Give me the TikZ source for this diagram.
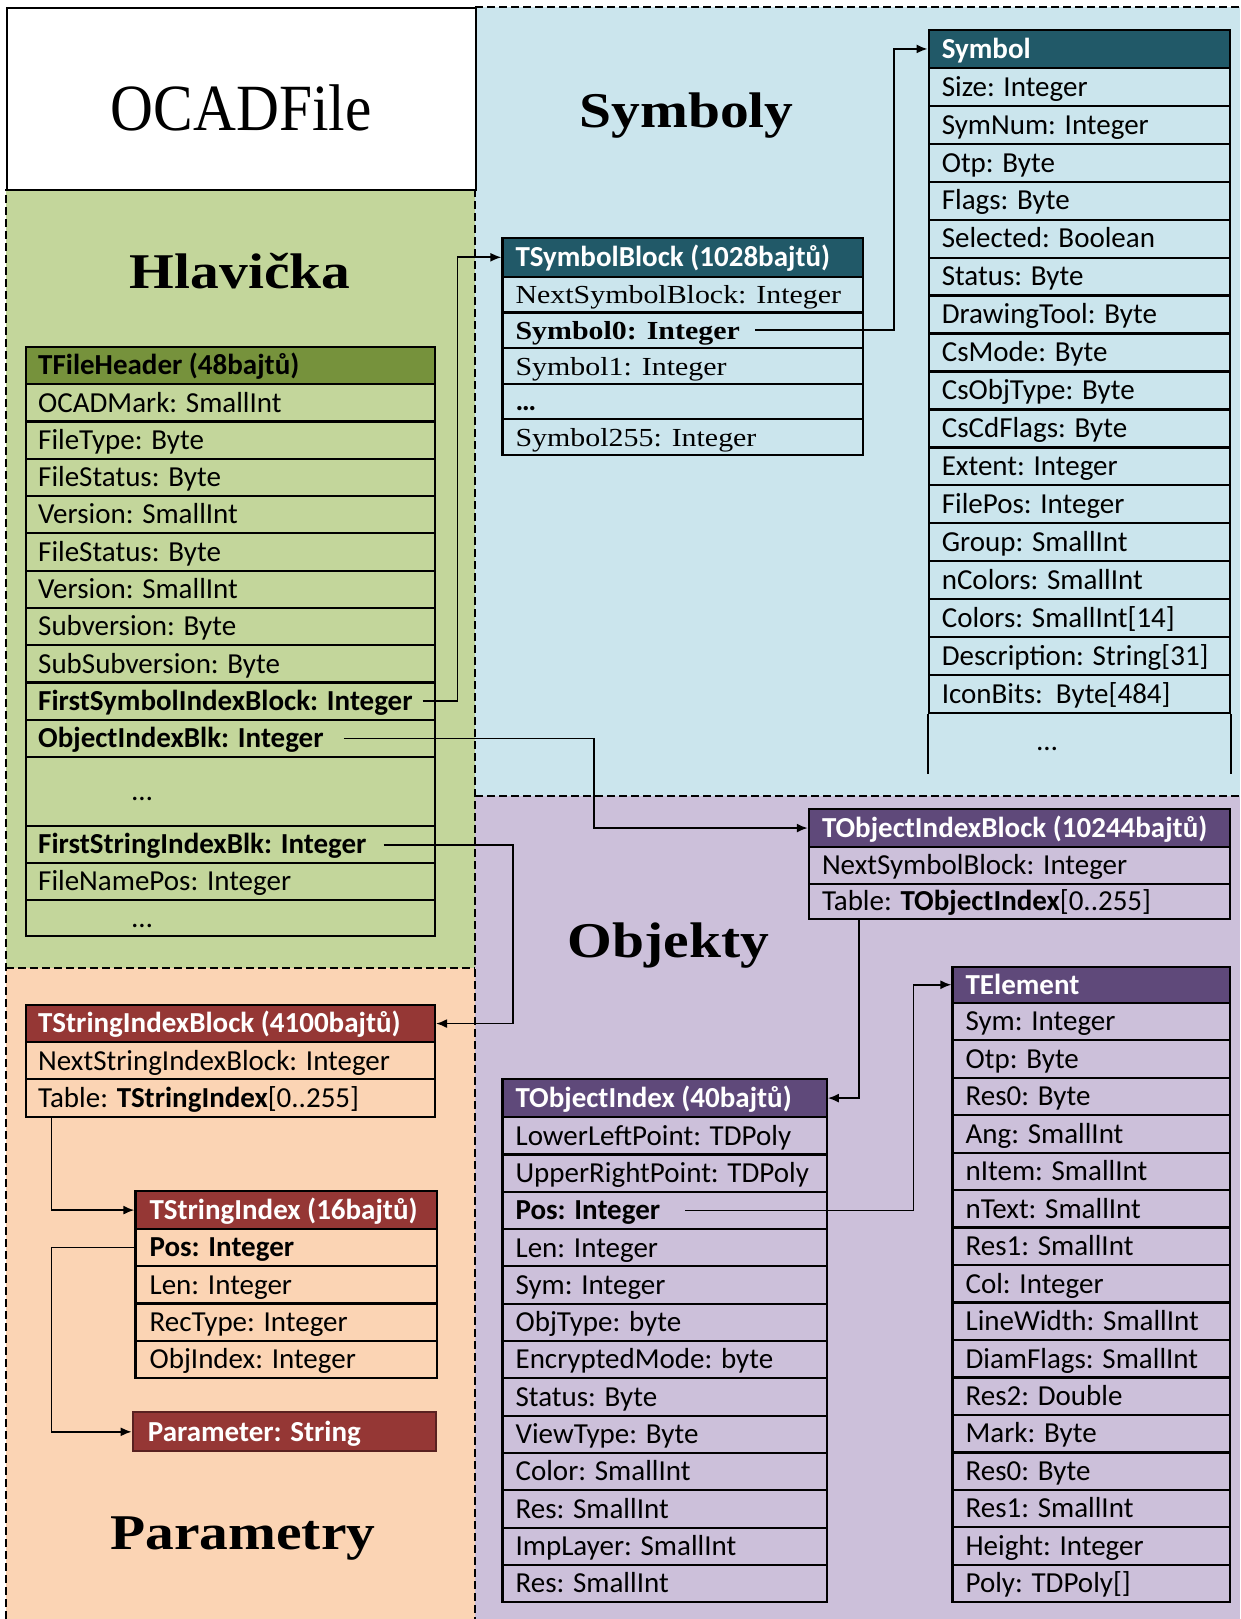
\documentclass[tikz,border=0pt]{standalone}
\usepackage{fontspec}
\setmainfont{Carlito}
\newfontfamily\cambria[FakeStretch=1.15]{Liberation Serif}
\newfontfamily\ocadfont[FakeStretch=0.9]{Liberation Serif}
\usetikzlibrary{arrows.meta,calc}
\definecolor{hlavbg}{RGB}{195,214,155}
\definecolor{hlavhd}{RGB}{118,146,60}
\definecolor{symbg}{RGB}{203,229,237}
\definecolor{symhd}{RGB}{33,89,104}
\definecolor{objbg}{RGB}{204,192,218}
\definecolor{objhd}{RGB}{95,73,122}
\definecolor{parbg}{RGB}{251,212,180}
\definecolor{parhd}{RGB}{149,55,53}
\newcommand\serif{\cambria\fontsize{26}{30}\selectfont}
\tikzset{
  cellbox/.style={draw=black, line width=2.2pt, inner sep=0pt, anchor=north west},
  rowtext/.style={anchor=west, inner sep=0pt, text height=22pt, text depth=3.4pt, font=\fontsize{29}{34}\selectfont},
  hdrtext/.style={rowtext, font=\fontsize{29}{34}\selectfont\bfseries, text=white},
  conn/.style={draw=black, line width=1.8pt, -{Latex[length=11pt,width=9pt]}},
  regionline/.style={draw=black, line width=1.4pt, dash pattern=on 8pt off 4pt},
  title/.style={anchor=base, inner sep=0pt, font=\cambria\bfseries\fontsize{50}{56}\selectfont},
}
\begin{document}
\begin{tikzpicture}[x=1pt,y=-1pt]
\useasboundingbox (0,0) rectangle (1240,1619);
% regions
\fill[symbg] (475,7) rectangle (1240,796);
\fill[objbg] (475,796) rectangle (1240,1619);
\fill[hlavbg] (6,189) rectangle (475,968);
\fill[parbg] (6,968) rectangle (475,1619);
\draw[regionline] (6,1619) -- (6,189);
\draw[regionline] (475,189) -- (475,1619);
\draw[regionline] (6,968) -- (475,968);
\draw[regionline] (475,7) -- (1240,7);
\draw[regionline] (475,796) -- (1240,796);
\node[draw=black, line width=2pt, fill=white, minimum width=469, minimum height=182, anchor=north west, inner sep=0pt] (ocad) at (6,7) {};
% titles
\node[anchor=base, inner sep=0pt, font=\ocadfont\fontsize{66}{70}\selectfont] (tOC) at (241.2,130.7) {OCADFile};
\node[title] (tHl) at (240.2,288.3) {Hlavička};
\node[title] (tSy) at (686.5,127.3) {Symboly};
\node[title] (tOb) at (668.6,957.5) {Objekty};
\node[title] (tPa) at (242.8,1549.4) {Parametry};

% ---------- TFileHeader ----------
\node[cellbox, fill=hlavhd, minimum width=409, minimum height=37] (fhh) at (25,346) {};
\node[rowtext, font=\fontsize{29}{34}\selectfont\bfseries] (fhht) at ([xshift=13pt]fhh.west) {TFileHeader (48bajtů)};
\foreach \t [count=\i] in {OCADMark: SmallInt, FileType: Byte, FileStatus: Byte, Version: SmallInt, FileStatus: Byte, Version: SmallInt, Subversion: Byte, SubSubversion: Byte, \bfseries FirstSymbolIndexBlock: Integer, \bfseries ObjectIndexBlk: Integer}{
  \node[cellbox, minimum width=409, minimum height=37.3] (fh\i) at (25,{383+(\i-1)*37.3}) {};
  \node[rowtext] (fht\i) at ([xshift=13pt]fh\i.west) {\t};
}
\node[cellbox, minimum width=409, minimum height=69] (fh11) at (25,756) {};
\node[rowtext] (fht11) at ([xshift=107pt]fh11.west) {…};
\node[cellbox, minimum width=409, minimum height=37] (fh12) at (25,825) {};
\node[rowtext] (fht12) at ([xshift=13pt]fh12.west) {\bfseries FirstStringIndexBlk: Integer};
\node[cellbox, minimum width=409, minimum height=37] (fh13) at (25,862) {};
\node[rowtext] (fht13) at ([xshift=13pt]fh13.west) {FileNamePos: Integer};
\node[cellbox, minimum width=409, minimum height=36] (fh14) at (25,899) {};
\node[rowtext] (fht14) at ([xshift=107pt]fh14.west) {…};

% ---------- TSymbolBlock ----------
\node[cellbox, fill=symhd, minimum width=360.6, minimum height=39] (sbh) at (501.4,236.7) {};
\node[hdrtext] (sbht) at ([xshift=14pt]sbh.west) {TSymbolBlock (1028bajtů)};
\foreach \t [count=\i] in {\serif NextSymbolBlock: Integer, \serif\bfseries Symbol0: Integer, \serif Symbol1: Integer, \bfseries …, \serif Symbol255: Integer}{
  \node[cellbox, minimum width=360.6, minimum height=35.6] (sb\i) at (501.4,{275.7+(\i-1)*35.6}) {};
  \node[rowtext] (sbt\i) at ([xshift=14pt]sb\i.west) {\t};
}

% ---------- Symbol ----------
\node[cellbox, fill=symhd, minimum width=301.4, minimum height=37.7] (syh) at (927.6,29) {};
\node[hdrtext] (syht) at ([xshift=14pt]syh.west) {Symbol};
\foreach \t [count=\i] in {Size: Integer, SymNum: Integer, Otp: Byte, Flags: Byte, Selected: Boolean, Status: Byte, DrawingTool: Byte, CsMode: Byte, CsObjType: Byte, CsCdFlags: Byte, Extent: Integer, FilePos: Integer, Group: SmallInt, nColors: SmallInt, Colors: SmallInt[14], Description: String[31], IconBits:\ \ Byte[484]}{
  \node[cellbox, minimum width=301.4, minimum height=37.96] (sy\i) at (927.6,{66.7+(\i-1)*37.96}) {};
  \node[rowtext] (syt\i) at ([xshift=14pt]sy\i.west) {\t};
}
\draw[line width=2.2pt] (sy17.south west) -- ++(0,60);
\draw[line width=2.2pt] (sy17.south east) -- ++(0,60);
\node[rowtext, anchor=center] (syd) at (1047,740.7) {…};

% ---------- TObjectIndexBlock ----------
\node[cellbox, fill=objhd, minimum width=421.2, minimum height=37.5] (oibh) at (807.8,808.2) {};
\node[hdrtext] (oibht) at ([xshift=14pt]oibh.west) {TObjectIndexBlock (10244bajtů)};
\node[cellbox, minimum width=421.2, minimum height=36.8] (oib1) at (807.8,845.7) {};
\node[rowtext] (oibt1) at ([xshift=14pt]oib1.west) {NextSymbolBlock: Integer};
\node[cellbox, minimum width=421.2, minimum height=35] (oib2) at (807.8,882.5) {};
\node[rowtext] (oibt2) at ([xshift=14pt]oib2.west) {Table: \textbf{TObjectIndex}[0..255]};

% ---------- TElement ----------
\node[cellbox, fill=objhd, minimum width=277.6, minimum height=35.9] (teh) at (951.4,965.7) {};
\node[hdrtext] (teht) at ([xshift=14pt]teh.west) {TElement};
\foreach \t [count=\i] in {Sym: Integer, Otp: Byte, Res0: Byte, Ang: SmallInt, nItem: SmallInt, nText: SmallInt, Res1: SmallInt, Col: Integer, LineWidth: SmallInt, DiamFlags: SmallInt, Res2: Double, Mark: Byte, Res0: Byte, Res1: SmallInt, Height: Integer, Poly: TDPoly[]}{
  \node[cellbox, minimum width=277.6, minimum height=37.475] (te\i) at (951.4,{1001.6+(\i-1)*37.475}) {};
  \node[rowtext] (tet\i) at ([xshift=14pt]te\i.west) {\t};
}

% ---------- TObjectIndex ----------
\node[cellbox, fill=objhd, minimum width=324.2, minimum height=38] (oih) at (501.4,1078) {};
\node[hdrtext] (oiht) at ([xshift=14pt]oih.west) {TObjectIndex (40bajtů)};
\foreach \t [count=\i] in {LowerLeftPoint: TDPoly, UpperRightPoint: TDPoly, \bfseries Pos: Integer, Len: Integer, Sym: Integer, ObjType: byte, EncryptedMode: byte, Status: Byte, ViewType: Byte, Color: SmallInt, Res: SmallInt, ImpLayer: SmallInt, Res: SmallInt}{
  \node[cellbox, minimum width=324.2, minimum height=37.32] (oi\i) at (501.4,{1116+(\i-1)*37.32}) {};
  \node[rowtext] (oit\i) at ([xshift=14pt]oi\i.west) {\t};
}

% ---------- TStringIndexBlock ----------
\node[cellbox, fill=parhd, minimum width=408.8, minimum height=37.5] (sibh) at (25,1003.7) {};
\node[hdrtext] (sibht) at ([xshift=13pt]sibh.west) {TStringIndexBlock (4100bajtů)};
\node[cellbox, minimum width=408.8, minimum height=36.8] (sib1) at (25,1041.2) {};
\node[rowtext] (sibt1) at ([xshift=13pt]sib1.west) {NextStringIndexBlock: Integer};
\node[cellbox, minimum width=408.8, minimum height=38] (sib2) at (25,1078) {};
\node[rowtext] (sibt2) at ([xshift=13pt]sib2.west) {Table: \textbf{TStringIndex}[0..255]};

% ---------- TStringIndex ----------
\node[cellbox, fill=parhd, minimum width=301.3, minimum height=37.6] (sih) at (134.4,1190.2) {};
\node[hdrtext] (siht) at ([xshift=15pt]sih.west) {TStringIndex (16bajtů)};
\foreach \t [count=\i] in {\bfseries Pos: Integer, Len: Integer, RecType: Integer, ObjIndex: Integer}{
  \node[cellbox, minimum width=301.3, minimum height=37.3] (si\i) at (134.4,{1227.8+(\i-1)*37.3}) {};
  \node[rowtext] (sit\i) at ([xshift=15pt]si\i.west) {\t};
}

% ---------- Parameter ----------
\node[cellbox, draw=parhd!60!black, line width=2pt, fill=parhd, minimum width=303.3, minimum height=38.8] (par) at (131.7,1411.4) {};
\node[hdrtext] (part) at ([xshift=16pt]par.west) {Parameter: String};

% ---------- connectors ----------
\coordinate (b1) at (457.5,0);
\coordinate (b2) at (894,0);
\coordinate (b3) at (594.3,0);
\coordinate (b4) at (512.8,0);
\coordinate (b5) at (859.2,0);
\coordinate (b6) at (913.4,0);
\coordinate (b7) at (51.4,0);
\draw[conn, shorten <=10pt] (fht9.east) -- (fht9.east -| b1) |- (sbh.west);
\draw[conn, shorten <=15pt] (sbt2.east) -- (sbt2.east -| b2) |- (syh.west);
\draw[conn, shorten <=20pt] (fht10.east) -- (fht10.east -| b3) |- (oibh.west);
\draw[conn, shorten <=17pt] (fht12.east) -- (fht12.east -| b4) |- (sibh.east);
\draw[conn] (oib2.south -| b5) |- (oih.east);
\draw[conn, shorten <=25pt] (oit3.east) -- (oit3.east -| b6) |- (teh.west);
\draw[conn] (sib2.south -| b7) |- (sih.west);
\draw[conn] (si1.west) -- (si1.west -| b7) |- (par.west);
\end{tikzpicture}
\end{document}
